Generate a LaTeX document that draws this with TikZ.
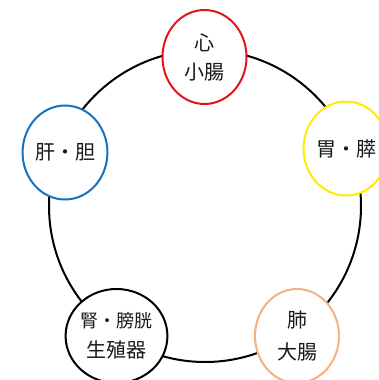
\documentclass[tikz,border=0pt]{standalone}
\usepackage{fontspec}
\usepackage{tikz}
\usetikzlibrary{shapes.geometric}
\newfontfamily\jpfont{Noto Sans CJK JP}
\definecolor{organe_rouge}{HTML}{E3141E}
\definecolor{organe_jaune}{HTML}{FFEB00}
\definecolor{organe_bleu}{HTML}{1A70BE}
\definecolor{organe_orange}{HTML}{F4B183}

\begin{document}
\begin{tikzpicture}[x=1pt,y=-1pt,
    organe/.style={ellipse,fill=white,line width=2pt,minimum width=84pt,minimum height=94pt,
      inner sep=0pt,align=center,text=black!90,font=\jpfont\fontsize{20}{30}\selectfont}]

        % Cadre de l'image
        \useasboundingbox (0,0) rectangle (379,380);
        \clip (0,0) rectangle (379,380);

        % Le grand cercle qui relie les organes
        \coordinate (O) at (205,206);
        \draw[line width=2pt] (O) circle (156pt);

        % Les cinq organes
        \node[organe,draw=organe_rouge] (coeur) at (204.5,57) {心\\[-1pt]小腸};
        \node[organe,draw=organe_jaune] (rate) at (346,148.5) {胃・膵};
        \node[organe,draw=organe_bleu] (foie) at (65,152.5) {肝・胆};
        \node[organe,draw=organe_orange] (poumon) at (297,336) {肺\\[2pt]大腸};
        \node[organe,draw=black] (rein) at (116.5,336) {{\fontsize{18}{29}\selectfont 腎・膀胱}\\生殖器};
    \end{tikzpicture}
\end{document}
